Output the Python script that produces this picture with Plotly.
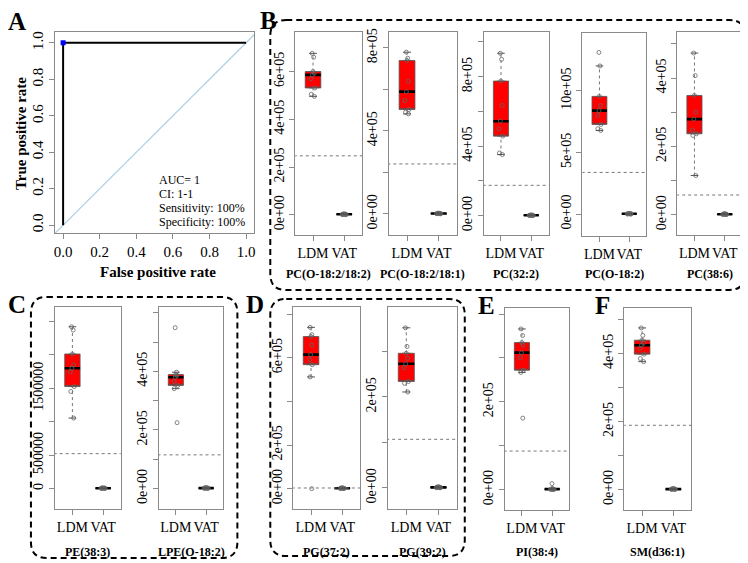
import math
import numpy as np
import plotly.graph_objects as go

PAGE_OFF = 8          # default body margin of the page
W, H = 740, 555       # figure size so that it fills the 748x563 window
SERIF = "Liberation Serif"

# ---------------- Panel A data (ROC) ----------------
roc_fpr = [0, 0, 1]
roc_tpr = [0, 1, 1]
best_fpr = [0]
best_tpr = [1]
diag_xy = [-0.2, 1.2]
roc_text = ["AUC= 1", "CI: 1-1", "Sensitivity: 100%", "Specificity: 100%"]
roc_tickvals = [0, 0.2, 0.4, 0.6, 0.8, 1.0]
roc_ticktext = ["0.0", "0.2", "0.4", "0.6", "0.8", "1.0"]

# ---------------- Box-plot data ----------------
groups = ["LDM", "VAT"]
lipids = ["PC(O-18:2/18:2)", "PC(O-18:2/18:1)", "PC(32:2)", "PC(O-18:2)", "PC(38:6)",
          "PE(38:3)", "LPE(O-18:2)", "PG(37:2)", "PG(39:2)", "PI(38:4)", "SM(d36:1)"]

ldm_pc_o18_2_18_2 = [496e3, 505e3, 531e3, 570e3, 586e3, 593e3, 600e3, 660e3, 676e3]
ldm_pc_o18_2_18_1 = [482e3, 490e3, 503e3, 546e3, 589e3, 639e3, 739e3, 750e3, 779e3]
ldm_pc_32_2 = [352e3, 361e3, 458e3, 500e3, 544e3, 635e3, 775e3, 900e3, 935e3]
ldm_pc_o18_2 = [678e3, 692e3, 727e3, 799e3, 839e3, 879e3, 954e3, 1201e3, 1310e3]
ldm_pc_38_6 = [115e3, 232e3, 237e3, 248e3, 280e3, 300e3, 349e3, 407e3, 473e3]
ldm_pe_38_3 = [1055e3, 1453e3, 1527e3, 1750e3, 1801e3, 1850e3, 2015e3, 2373e3, 2423e3]
ldm_lpe_o18_2 = [225e3, 341e3, 352e3, 365e3, 380e3, 386e3, 389e3, 397e3, 549e3]
ldm_pg_37_2 = [0, 512e3, 568e3, 591e3, 614e3, 659e3, 697e3, 706e3, 739e3]
ldm_pg_39_2 = [211e3, 230e3, 234e3, 264e3, 273e3, 285e3, 296e3, 311e3, 352e3]
ldm_pi_38_4 = [163e3, 267e3, 272e3, 300e3, 312e3, 329e3, 335e3, 351e3, 366e3]
ldm_sm_d36_1 = [376e3, 385e3, 398e3, 415e3, 424e3, 430e3, 439e3, 453e3, 475e3]

vat_pc_o18_2_18_2 = [700, 1100, 1400, 1800, 2200, 2500, 2900, 3400, 4100]
vat_pc_o18_2_18_1 = [800, 1200, 1500, 1900, 2300, 2600, 3000, 3500, 4200]
vat_pc_32_2 = [900, 1300, 1700, 2100, 2500, 2900, 3300, 3800, 4500]
vat_pc_o18_2 = [1000, 1500, 2000, 2400, 2900, 3300, 3800, 4400, 5200]
vat_pc_38_6 = [600, 900, 1200, 1500, 1800, 2100, 2500, 2900, 3600]
vat_pe_38_3 = [1500, 2500, 3200, 4000, 4800, 5500, 6300, 7200, 8500]
vat_lpe_o18_2 = [500, 800, 1100, 1400, 1700, 2000, 2300, 2700, 3300]
vat_pg_37_2 = [600, 900, 1200, 1500, 1800, 2200, 2600, 3000, 3700]
vat_pg_39_2 = [400, 700, 900, 1200, 1400, 1700, 2000, 2300, 2800]
vat_pi_38_4 = [400, 700, 900, 1200, 1400, 1700, 2000, 2400, 14000]
vat_sm_d36_1 = [500, 800, 1000, 1300, 1500, 1800, 2100, 2500, 3000]

ldm_values = [ldm_pc_o18_2_18_2, ldm_pc_o18_2_18_1, ldm_pc_32_2, ldm_pc_o18_2, ldm_pc_38_6,
              ldm_pe_38_3, ldm_lpe_o18_2, ldm_pg_37_2, ldm_pg_39_2, ldm_pi_38_4, ldm_sm_d36_1]
vat_values = [vat_pc_o18_2_18_2, vat_pc_o18_2_18_1, vat_pc_32_2, vat_pc_o18_2, vat_pc_38_6,
              vat_pe_38_3, vat_lpe_o18_2, vat_pg_37_2, vat_pg_39_2, vat_pi_38_4, vat_sm_d36_1]

thresholds = [247e3, 241e3, 175e3, 338e3, 58e3, 522e3, 115e3, 3e3, 107e3, 88e3, 189e3]

y_ranges = [(-86e3, 766e3), (-103e3, 877e3), (-113e3, 1058e3), (-180e3, 1469e3), (-60e3, 535e3),
            (-313e3, 2721e3), (-71e3, 620e3), (-95e3, 833e3), (-47e3, 398e3), (-47e3, 414e3),
            (-61e3, 534e3)]

y_tickvals = [
    [0, 2e5, 4e5, 6e5],
    [0, 2e5, 4e5, 6e5, 8e5],
    [0, 2e5, 4e5, 6e5, 8e5, 1e6],
    [0, 5e5, 1e6],
    [0, 1e5, 2e5, 3e5, 4e5, 5e5],
    [0, 5e5, 1e6, 1.5e6, 2e6, 2.5e6],
    [0, 1e5, 2e5, 3e5, 4e5, 5e5, 6e5],
    [0, 2e5, 4e5, 6e5, 8e5],
    [0, 1e5, 2e5, 3e5],
    [0, 1e5, 2e5, 3e5, 4e5],
    [0, 1e5, 2e5, 3e5, 4e5, 5e5],
]
y_ticktext = [
    ["0e+00", "2e+05", "4e+05", "6e+05"],
    ["0e+00", "", "4e+05", "", "8e+05"],
    ["0e+00", "", "4e+05", "", "8e+05", ""],
    ["0e+00", "5e+05", "10e+05"],
    ["0e+00", "", "2e+05", "", "4e+05", ""],
    ["0", "500000", "", "1500000", "", ""],
    ["0e+00", "", "2e+05", "", "4e+05", "", ""],
    ["0e+00", "2e+05", "", "6e+05", ""],
    ["0e+00", "", "2e+05", ""],
    ["0e+00", "", "2e+05", "", ""],
    ["0e+00", "", "2e+05", "", "4e+05", ""],
]

# ---------------- layout geometry (window pixels) ----------------
roc_box_px = (54, 254, 28, 231)
box_px = [(295, 362, 28, 233), (389, 457, 28, 233), (484, 549, 28, 233), (583, 647, 29, 234),
          (678, 743, 28, 233), (54, 120, 305, 509), (158, 223, 305, 509), (293, 360, 305, 509),
          (388, 457, 305, 509), (505, 570, 306, 510), (625, 692, 306, 510)]
title_y_px = [272, 272, 272, 272, 272, 552, 552, 552, 552, 552, 552]
panel_letters = [("A", 16, 18), ("B", 268, 17), ("C", 16, 303), ("D", 255, 303), ("E", 487, 304), ("F", 603, 304)]
frames_px = [(270, 16, 746, 288), (30, 295, 237, 558), (270, 297, 465, 556)]
BOX_W = 0.5
CAP_W = 0.25


def px_x(x):
    return (x - PAGE_OFF) / W


def px_y(y):
    return 1 - (y - PAGE_OFF) / H


def dom(b):
    x0, x1, y0, y1 = b
    return [px_x(x0), px_x(x1)], [px_y(y1), px_y(y0)]


def box_stats(vals):
    """R boxplot statistics: Tukey hinges and 1.5*IQR whiskers."""
    x = sorted(vals)
    n = len(x)
    n4 = math.floor((n + 3) / 2) / 2
    d = [1, n4, (n + 1) / 2, n + 1 - n4, n]
    f = [0.5 * (x[math.floor(v) - 1] + x[math.ceil(v) - 1]) for v in d]
    q1, med, q3 = f[1], f[2], f[3]
    iqr = q3 - q1
    lo = min(v for v in x if v >= q1 - 1.5 * iqr)
    hi = max(v for v in x if v <= q3 + 1.5 * iqr)
    return q1, med, q3, lo, hi


AX_LINE = "#8a8a8a"
TICKFONT = dict(family=SERIF, size=14, color="black")

fig = go.Figure()

# ---------------- Panel A ----------------
fig.add_trace(go.Scatter(x=diag_xy, y=diag_xy, mode="lines", line=dict(color="#a9cfe3", width=1.2),
                         xaxis="x", yaxis="y", hoverinfo="skip"))
fig.add_trace(go.Scatter(x=roc_fpr, y=roc_tpr, mode="lines", line=dict(color="black", width=2),
                         xaxis="x", yaxis="y", hoverinfo="skip"))
fig.add_trace(go.Scatter(x=best_fpr, y=best_tpr, mode="markers",
                         marker=dict(color="blue", size=5, symbol="square"),
                         xaxis="x", yaxis="y", hoverinfo="skip"))
xd, yd = dom(roc_box_px)
layout = dict(
    xaxis=dict(domain=xd, range=[-0.045, 1.045], tickvals=roc_tickvals, ticktext=roc_ticktext,
               ticks="outside", ticklen=5, tickcolor=AX_LINE, showline=True, mirror=True,
               linecolor=AX_LINE, showgrid=False, zeroline=False, anchor="y", tickangle=0,
               tickfont=dict(family=SERIF, size=15, color="black")),
    yaxis=dict(domain=yd, range=[-0.045, 1.06], tickvals=roc_tickvals, ticktext=roc_ticktext,
               ticks="outside", ticklen=5, tickcolor=AX_LINE, showline=True, mirror=True,
               linecolor=AX_LINE, showgrid=False, zeroline=False, anchor="x", tickangle=-90,
               tickfont=dict(family=SERIF, size=15, color="black")),
)


def ann(text, x, y, size, angle=0, xanchor="center"):
    return dict(text=text, x=px_x(x), y=px_y(y), xref="paper", yref="paper", xanchor=xanchor,
                yanchor="middle", showarrow=False, textangle=angle,
                font=dict(family=SERIF, size=size, color="black"))


annotations = []
for i, t in enumerate(roc_text):
    annotations.append(ann(t, 156, 177 + i * 14.3, 12, xanchor="left"))
annotations.append(ann("<b>True positive rate</b>", 20, 130, 15, angle=-90))
annotations.append(ann("<b>False positive rate</b>", 157, 270, 15))

# ---------------- Box plots ----------------
positions = [1, 2]
for k in range(len(lipids)):
    ax = k + 2
    xa, ya = f"x{ax}", f"y{ax}"
    # threshold line (drawn first, underneath)
    fig.add_trace(go.Scatter(x=[0, 3], y=[thresholds[k]] * 2, mode="lines", xaxis=xa, yaxis=ya,
                             line=dict(color="#777777", width=1, dash="dot"),
                             hoverinfo="skip", showlegend=False))
    for pos, vals in zip(positions, [ldm_values[k], vat_values[k]]):
        q1, med, q3, lo, hi = box_stats(vals)
        # whiskers: dotted
        for a, b in [(q3, hi), (lo, q1)]:
            fig.add_trace(go.Scatter(x=[pos, pos], y=[a, b], mode="lines", xaxis=xa, yaxis=ya,
                                     line=dict(color="#777777", width=1, dash="dot"),
                                     hoverinfo="skip", showlegend=False))
        # staples
        for v in (lo, hi):
            fig.add_trace(go.Scatter(x=[pos - CAP_W / 2, pos + CAP_W / 2], y=[v, v], mode="lines",
                                     xaxis=xa, yaxis=ya, line=dict(color="#555555", width=1),
                                     hoverinfo="skip", showlegend=False))
        # red box
        fig.add_trace(go.Box(
            x=[pos], q1=[q1], median=[q1], q3=[q3], lowerfence=[q1], upperfence=[q3],
            xaxis=xa, yaxis=ya, width=BOX_W, boxpoints=False, fillcolor="#ff0000",
            line=dict(color="#555555", width=0.8), hoverinfo="skip", showlegend=False))
        # black median
        fig.add_trace(go.Box(
            x=[pos], q1=[med], median=[med], q3=[med], lowerfence=[med], upperfence=[med],
            xaxis=xa, yaxis=ya, width=BOX_W, boxpoints=False, fillcolor="black",
            line=dict(color="black", width=2.6), hoverinfo="skip", showlegend=False))
        # jittered individual samples (invisible box, points only)
        fig.add_trace(go.Box(
            x=[pos] * len(vals), y=vals, xaxis=xa, yaxis=ya, width=BOX_W,
            boxpoints="all", jitter=0.35, pointpos=0, quartilemethod="inclusive",
            fillcolor="rgba(0,0,0,0)", line=dict(color="rgba(0,0,0,0)", width=0), whiskerwidth=0,
            marker=dict(symbol="circle-open", size=4, color="#666666", line=dict(width=0.8)),
            hoverinfo="skip", showlegend=False))
    xd, yd = dom(box_px[k])
    layout[f"xaxis{ax}"] = dict(domain=xd, range=[0.43, 2.57], tickvals=positions, ticktext=groups,
                               ticks="outside", ticklen=5, tickcolor=AX_LINE, showline=True,
                               mirror=True, linecolor=AX_LINE, showgrid=False, zeroline=False,
                               anchor=ya, tickfont=TICKFONT, tickangle=0)
    layout[f"yaxis{ax}"] = dict(domain=yd, range=list(y_ranges[k]), tickvals=y_tickvals[k],
                               ticktext=y_ticktext[k], ticks="outside", ticklen=5, tickcolor=AX_LINE,
                               showline=True, mirror=True, linecolor=AX_LINE, showgrid=False,
                               zeroline=False, anchor=xa, tickangle=-90, tickfont=TICKFONT)
    cx = (box_px[k][0] + box_px[k][1]) / 2
    annotations.append(ann(f"<b>{lipids[k]}</b>", cx, title_y_px[k], 12))

for letter, lx, ly in panel_letters:
    annotations.append(ann(f"<b>{letter}</b>", lx, ly, 25))


def rounded_path(x0, y0, x1, y1, r):
    pts = [
        ("M", [(x0 + r, y0)]), ("L", [(x1 - r, y0)]), ("Q", [(x1, y0), (x1, y0 + r)]),
        ("L", [(x1, y1 - r)]), ("Q", [(x1, y1), (x1 - r, y1)]), ("L", [(x0 + r, y1)]),
        ("Q", [(x0, y1), (x0, y1 - r)]), ("L", [(x0, y0 + r)]), ("Q", [(x0, y0), (x0 + r, y0)]),
    ]
    s = ""
    for cmd, ps in pts:
        s += cmd + " " + " ".join(f"{px_x(a):.5f},{px_y(b):.5f}" for a, b in ps) + " "
    return s + "Z"


shapes = []
for (x0, y0, x1, y1) in frames_px:
    shapes.append(dict(type="path", path=rounded_path(x0, y0, x1, y1, 16), xref="paper", yref="paper",
                       line=dict(color="black", width=2, dash="6px,4px"), fillcolor="rgba(0,0,0,0)"))

fig.update_layout(**layout)
fig.update_layout(width=W, height=H, autosize=False, margin=dict(l=0, r=0, t=0, b=0),
                  paper_bgcolor="white", plot_bgcolor="white", showlegend=False,
                  boxmode="overlay", annotations=annotations, shapes=shapes,
                  font=dict(family=SERIF, color="black"))

fig.write_html("out.html")
